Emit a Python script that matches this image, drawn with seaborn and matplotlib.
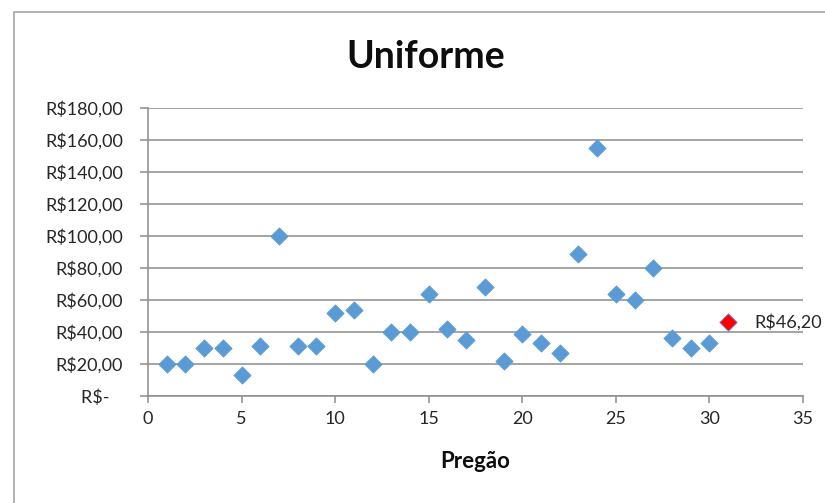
import pandas as pd
import matplotlib
matplotlib.use("Agg")
import matplotlib.pyplot as plt
import seaborn as sns
from matplotlib.patches import Rectangle

# Data #

pregao = list(range(1, 31))
valores = [20, 20, 30, 30, 13, 31, 100, 31, 31, 52,
           54, 20, 40, 40, 64, 42, 35, 68, 22, 39,
           33, 27, 89, 155, 64, 60, 80, 36, 30, 33]
ultimo_pregao = 31
ultimo_valor = 46.20
yticks = [0, 20, 40, 60, 80, 100, 120, 140, 160, 180]
xticks = [0, 5, 10, 15, 20, 25, 30, 35]

df = pd.DataFrame({'Pregão': pregao, 'Valor': valores})
df_ultimo = pd.DataFrame({'Pregão': [ultimo_pregao], 'Valor': [ultimo_valor]})

# Style #

sns.set_theme(style="white")
plt.rcParams['font.family'] = ['Lato', 'DejaVu Sans']


def moeda(v):
    if v == 0:
        return "R$-   "
    return "R$" + f"{v:,.2f}".replace(",", "X").replace(".", ",").replace("X", ".")


fig = plt.figure(figsize=(8.25, 5.03), dpi=100)
ax = fig.add_axes([148 / 825, 1 - 396 / 503, 655 / 825, 288 / 503])

# chart frame (Excel style border, top and left visible)
fig.patches.append(Rectangle((14 / 825, -0.1), 1.2, 1 - 12 / 503 + 0.1,
                             transform=fig.transFigure, fill=False,
                             edgecolor='#a6a6a6', linewidth=1.2))

sns.scatterplot(data=df, x='Pregão', y='Valor', marker='D', s=78,
                color='#5B9BD5', edgecolor='#5B9BD5', linewidth=0.5, ax=ax, zorder=3)
sns.scatterplot(data=df_ultimo, x='Pregão', y='Valor', marker='D', s=78,
                color='#FF0000', edgecolor='#7b7bd0', linewidth=0.6, ax=ax, zorder=4)

ax.annotate(moeda(ultimo_valor), (ultimo_pregao, ultimo_valor), xytext=(19, 0),
            textcoords='offset points', va='center', ha='left', fontsize=13,
            color='#262626', annotation_clip=False)

ax.set_xlim(0, 35)
ax.set_ylim(0, 180)
ax.set_xticks(xticks)
ax.set_yticks(yticks)
ax.set_yticklabels([moeda(v) for v in yticks])
ax.grid(axis='y', color='#8c8c8c', linewidth=1.1)
ax.set_axisbelow(True)

for s in ['top', 'right']:
    ax.spines[s].set_visible(False)
ax.spines['left'].set_color('#8c8c8c')
ax.spines['bottom'].set_color('#8c8c8c')
ax.spines['left'].set_linewidth(1.1)
ax.spines['bottom'].set_linewidth(1.1)

ax.tick_params(axis='y', direction='out', length=6, width=1.1, color='#8c8c8c',
               pad=12, labelsize=13, labelcolor='#262626', left=True)
ax.tick_params(axis='x', direction='out', length=5, width=1.1, color='#8c8c8c',
               pad=6, labelsize=13, labelcolor='#262626', bottom=True)

ax.set_ylabel('')
ax.set_xlabel('Pregão', fontsize=16, fontweight='bold', labelpad=17, color='#0d0d0d')
fig.text(426 / 825, 1 - 57 / 503, 'Uniforme', ha='center', va='center',
         fontsize=27, fontweight='bold', color='#0d0d0d')

fig.savefig('out.png', dpi=100)
